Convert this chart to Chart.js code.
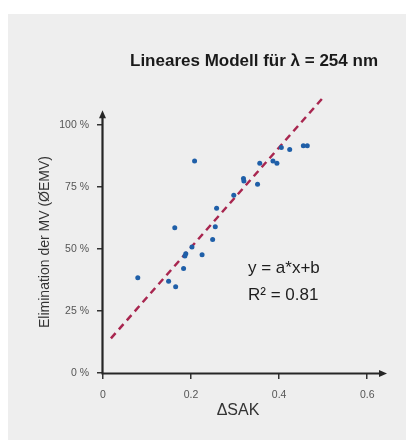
<!DOCTYPE html>
<html><head><meta charset="utf-8">
<script src="https://cdn.jsdelivr.net/npm/chart.js@4.4.1/dist/chart.umd.min.js"></script>
<style>
html,body{margin:0;padding:0;background:#fff;}
#panel{position:absolute;left:8px;top:14px;width:398px;height:426px;background:#eeeeee;}
#wrap{position:absolute;left:0;top:0;width:411px;height:440px;}
</style></head><body>
<div id="panel"></div>
<div id="wrap"><canvas id="c" width="411" height="440"></canvas></div>
<script>
// Data
const dsakX = [0.079, 0.149, 0.165, 0.163, 0.183, 0.186, 0.188, 0.202, 0.208, 0.225, 0.249, 0.255, 0.258, 0.297, 0.319, 0.320, 0.351, 0.356, 0.386, 0.395, 0.405, 0.424, 0.455, 0.464];
const eliminationY = [38.4, 37.0, 34.8, 58.6, 42.2, 47.2, 48.1, 50.9, 85.6, 47.7, 53.9, 59.0, 66.5, 71.7, 78.5, 77.5, 76.2, 84.6, 85.6, 84.6, 91.0, 90.2, 91.7, 91.7];
const fitX = [0.018, 0.501];
const fitY = [14.0, 111.4];
const xTicks = [0, 0.2, 0.4, 0.6];
const xTickLabels = ['0', '0.2', '0.4', '0.6'];
const yTicks = [0, 25, 50, 75, 100];
const yTickLabels = ['0 %', '25 %', '50 %', '75 %', '100 %'];
const titleText = 'Lineares Modell für λ = 254 nm';
const xTitle = 'ΔSAK';
const yTitle = 'Elimination der MV (ØEMV)';
const formulaText = 'y = a*x+b';
const r2Text = 'R² = 0.81';

const FONT = '"Liberation Sans", Arial, sans-serif';

const decor = {
  id: 'decor',
  afterDraw(chart) {
    const ctx = chart.ctx;
    const xs = chart.scales.x, ys = chart.scales.y;
    const x0 = xs.getPixelForValue(0) - 0.5;
    const y0 = ys.getPixelForValue(0) + 0.5;
    const yTip = ys.getPixelForValue(106);
    const xTip = xs.getPixelForValue(0.645);
    ctx.save();
    ctx.strokeStyle = '#262626';
    ctx.fillStyle = '#262626';
    ctx.lineWidth = 2.2;
    ctx.beginPath();
    ctx.moveTo(x0, y0 + 1);
    ctx.lineTo(x0, yTip + 6);
    ctx.moveTo(x0 - 1, y0);
    ctx.lineTo(xTip - 6, y0);
    ctx.stroke();
    ctx.beginPath();
    ctx.moveTo(x0, yTip);
    ctx.lineTo(x0 - 3.5, yTip + 8);
    ctx.lineTo(x0 + 3.5, yTip + 8);
    ctx.closePath();
    ctx.fill();
    ctx.beginPath();
    ctx.moveTo(xTip, y0);
    ctx.lineTo(xTip - 8, y0 - 3.5);
    ctx.lineTo(xTip - 8, y0 + 3.5);
    ctx.closePath();
    ctx.fill();

    // title
    ctx.fillStyle = '#1a1a1a';
    ctx.font = 'bold 17px ' + FONT;
    ctx.textAlign = 'center';
    ctx.textBaseline = 'alphabetic';
    ctx.fillText(titleText, 254, 66);

    // annotations
    ctx.font = '17px ' + FONT;
    ctx.textAlign = 'left';
    ctx.fillStyle = '#1e1e1e';
    ctx.fillText(formulaText, 248, 273);
    ctx.fillText(r2Text, 248, 300);

    // x title
    ctx.font = '16px ' + FONT;
    ctx.textAlign = 'center';
    ctx.fillStyle = '#333';
    ctx.fillText(xTitle, 238, 415);

    // y title
    ctx.save();
    ctx.translate(49, 242);
    ctx.rotate(-Math.PI / 2);
    ctx.font = '14px ' + FONT;
    ctx.textAlign = 'center';
    ctx.fillStyle = '#333';
    ctx.fillText(yTitle, 0, 0);
    ctx.restore();
    ctx.restore();
  }
};

new Chart(document.getElementById('c'), {
  type: 'scatter',
  data: {
    datasets: [
      {
        type: 'line',
        data: fitX.map((x, i) => ({x: x, y: fitY[i]})),
        borderColor: '#a8264f',
        borderWidth: 2.5,
        borderDash: [7, 5],
        pointRadius: 0,
        fill: false,
        order: 2
      },
      {
        data: dsakX.map((x, i) => ({x: x, y: eliminationY[i]})),
        backgroundColor: '#1f5fa8',
        borderColor: '#1f5fa8',
        pointRadius: 2.5,
        borderWidth: 0,
        order: 1
      }
    ]
  },
  options: {
    responsive: false,
    devicePixelRatio: 1,
    animation: false,
    layout: { padding: { left: 0, top: 93, right: 24, bottom: 0 } },
    plugins: { legend: { display: false }, tooltip: { enabled: false }, title: { display: false } },
    scales: {
      x: {
        type: 'linear',
        min: 0, max: 0.645,
        afterBuildTicks: s => { s.ticks = xTicks.map(v => ({value: v})); },
        afterFit: s => { s.height = 67; },
        border: { display: false },
        grid: { drawOnChartArea: false, drawTicks: true, tickLength: 6, color: '#333', lineWidth: 1.5 },
        ticks: {
          padding: 10,
          color: '#555',
          font: { family: FONT, size: 10.5 },
          autoSkip: false,
          maxRotation: 0,
          callback: (v) => { const i = xTicks.indexOf(v); return i >= 0 ? xTickLabels[i] : ''; }
        }
      },
      y: {
        type: 'linear',
        min: 0, max: 113,
        afterBuildTicks: s => { s.ticks = yTicks.map(v => ({value: v})); },
        afterFit: s => { s.width = 103; },
        border: { display: false },
        grid: { drawOnChartArea: false, drawTicks: true, tickLength: 6, color: '#333', lineWidth: 1.5 },
        ticks: {
          padding: 8,
          color: '#555',
          font: { family: FONT, size: 10.5 },
          autoSkip: false,
          callback: (v) => { const i = yTicks.indexOf(v); return i >= 0 ? yTickLabels[i] : ''; }
        }
      }
    }
  },
  plugins: [decor]
});
</script>
</body></html>
